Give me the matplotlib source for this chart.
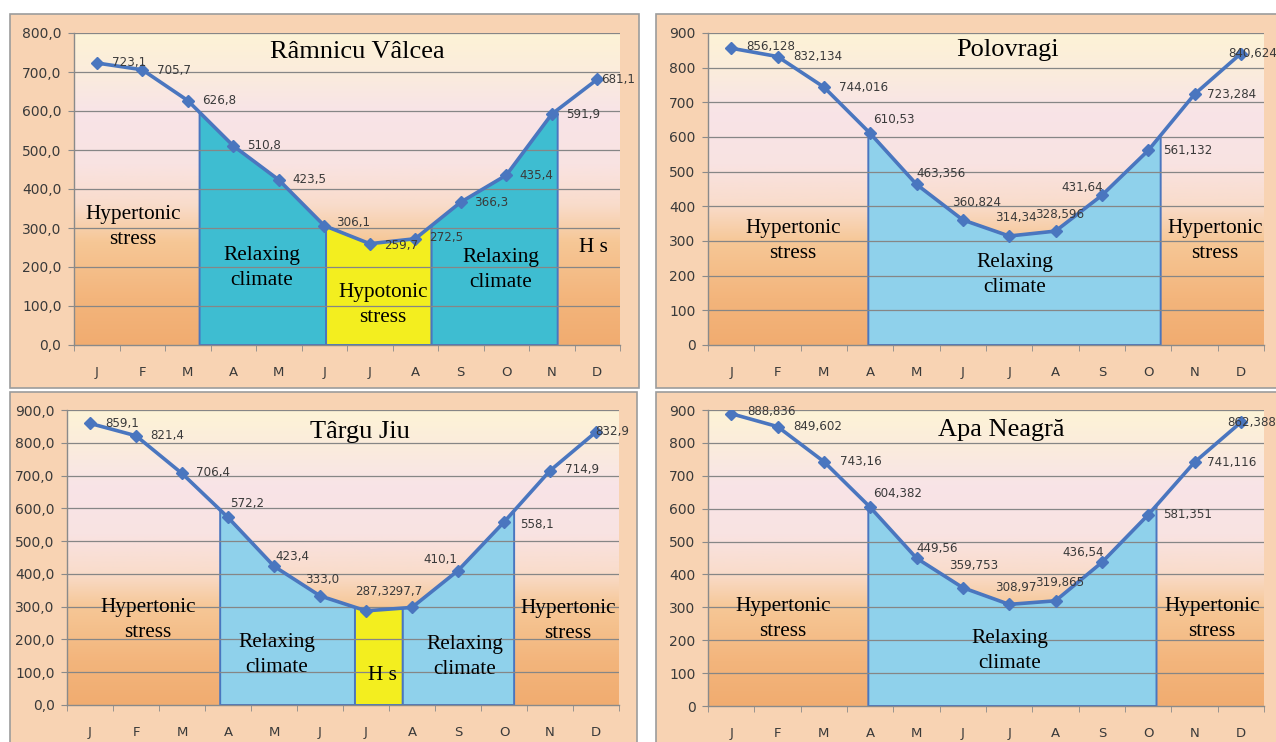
import numpy as np
import matplotlib
matplotlib.use("Agg")
import matplotlib.pyplot as plt
from matplotlib.colors import LinearSegmentedColormap
from matplotlib.patches import Rectangle

# ---- data -------------------------------------------------------------
months = ["J", "F", "M", "A", "M", "J", "J", "A", "S", "O", "N", "D"]

ramnicu_valcea = [723.1, 705.7, 626.8, 510.8, 423.5, 306.1, 259.7, 272.5, 366.3, 435.4, 591.9, 681.1]
polovragi = [856.128, 832.134, 744.016, 610.53, 463.356, 360.824, 314.34, 328.596, 431.64, 561.132, 723.284, 840.624]
targu_jiu = [859.1, 821.4, 706.4, 572.2, 423.4, 333.0, 287.3, 297.7, 410.1, 558.1, 714.9, 832.9]
apa_neagra = [888.836, 849.602, 743.16, 604.382, 449.56, 359.753, 308.97, 319.865, 436.54, 581.351, 741.116, 862.388]

# bioclimatic zones along the month axis: (start, end, kind)
zones_ramnicu = [(2.26, 5.04, "relax_t"), (5.04, 7.36, "hypo"), (7.36, 10.13, "relax_t")]
zones_polovragi = [(2.96, 9.27, "relax")]
zones_targu = [(2.83, 5.76, "relax"), (5.76, 6.80, "hypo"), (6.80, 9.22, "relax")]
zones_apa = [(2.96, 9.18, "relax")]

# ---- style ------------------------------------------------------------
W, H = 1276, 742
LINE = "#4a76bf"
ZONE_COLORS = {"relax_t": "#3ebdd1", "relax": "#8fd1eb", "hypo": "#f3ee1f"}
PANEL = "#f8d3b3"
TXT = "#3a3a3a"
SERIF = "Liberation Serif"

grad_cmap = LinearSegmentedColormap.from_list(
    "bg",
    [(0.00, "#f1ac70"), (0.15, "#f3b57c"), (0.33, "#f6c796"),
     (0.45, "#f9dccb"), (0.58, "#f9e3e2"), (0.75, "#f8e4e7"),
     (0.88, "#fbecdc"), (1.00, "#fdf3d6")])

fig = plt.figure(figsize=(W / 100, H / 100), dpi=100, facecolor="white")


def fx(px):
    return px / W


def fy(py):
    return 1 - py / H


def panel(x0, y0, x1, y1):
    fig.patches.append(Rectangle((fx(x0), fy(y1)), (x1 - x0) / W, (y1 - y0) / H,
                                 transform=fig.transFigure, facecolor=PANEL,
                                 edgecolor="#9c9c9c", linewidth=1.2, zorder=-10))


def chart(box, values, ymax, zones, title, title_xy, notes, offsets, ylab_fmt, val_fmt):
    left, top, right, bottom = box
    ax = fig.add_axes([fx(left), fy(bottom), (right - left) / W, (bottom - top) / H])
    ax.set_facecolor("none")
    ax.set_zorder(1)
    x = np.arange(len(values))
    v = np.asarray(values, dtype=float)

    grad = np.linspace(0, 1, 256).reshape(-1, 1)
    ax.imshow(grad, extent=(-0.5, 11.5, 0, ymax), origin="lower", aspect="auto",
              cmap=grad_cmap, zorder=0, interpolation="bicubic")

    for a, b, kind in zones:
        xs = np.concatenate([[a], x[(x > a) & (x < b)], [b]])
        ys = np.interp(xs, x, v)
        px = np.concatenate([[a], xs, [b]])
        py = np.concatenate([[0], ys, [0]])
        ax.fill(px, py, facecolor=ZONE_COLORS[kind], edgecolor=LINE,
                linewidth=1.4, zorder=1)

    for g in np.arange(100, ymax + 1, 100):
        ax.axhline(g, color="#868686", linewidth=0.9, zorder=2)

    ax.plot(x, v, color=LINE, linewidth=2.6, marker="D", markersize=6,
            markeredgecolor=LINE, zorder=4, solid_joinstyle="round")

    for i, val in enumerate(values):
        dx, dy = offsets[i]
        ax.annotate(val_fmt(val), (x[i], val), xytext=(dx * 0.72, dy * 0.72),
                    textcoords="offset points", ha="left", va="center",
                    fontsize=8.6, color=TXT, zorder=5, family="DejaVu Sans",
                    annotation_clip=False)

    ax.set_xlim(-0.5, 11.5)
    ax.set_ylim(0, ymax)
    ax.set_xticks(x)
    ax.set_xticklabels(months)
    ax.set_xticks(np.arange(-0.5, 12, 1), minor=True)
    ax.tick_params(axis="x", which="major", length=0, pad=15,
                   labelsize=9.5, labelcolor=TXT)
    ax.tick_params(axis="x", which="minor", length=4, color="#8a8a8a", direction="out")
    ax.set_yticks(np.arange(0, ymax + 1, 100))
    ax.set_yticklabels([ylab_fmt(t) for t in np.arange(0, ymax + 1, 100)])
    ax.tick_params(axis="y", length=4, color="#8a8a8a", pad=5,
                   labelsize=10, labelcolor=TXT)
    for s in ("top", "right"):
        ax.spines[s].set_visible(False)
    for s in ("left", "bottom"):
        ax.spines[s].set_color("#8a8a8a")
        ax.spines[s].set_linewidth(1.0)
        ax.spines[s].set_zorder(3)

    fig.text(fx(title_xy[0]), fy(title_xy[1]), title, ha="center", va="center",
             fontsize=19, family=SERIF, color="black", zorder=5)
    for (tx, ty), txt in notes:
        fig.text(fx(tx), fy(ty), txt, ha="center", va="center", fontsize=15.3,
                 family=SERIF, color="black", linespacing=1.37, zorder=5)
    return ax


dec1 = lambda t: f"{t:.1f}".replace(".", ",")
intl = lambda t: f"{t:.0f}"
gen = lambda t: f"{t:g}".replace(".", ",")

panel(10, 14, 639, 388)
panel(656, 14, 1290, 388)
panel(10, 392, 637, 750)
panel(656, 392, 1290, 750)

chart((74, 33, 620, 345), ramnicu_valcea, 800, zones_ramnicu,
      "Râmnicu Vâlcea", (357, 52),
      [((133, 227), "Hypertonic\nstress"), ((262, 268), "Relaxing\nclimate"),
       ((383, 305), "Hypotonic\nstress"), ((501, 270), "Relaxing\nclimate"),
       ((593, 247), "H s")],
      [(15, 0), (15, -1), (14, 0), (14, 0), (14, 0), (12, 3), (14, -2),
       (14, 1), (13, 0), (13, 0), (14, 0), (4, 0)],
      dec1, dec1)

chart((708, 33, 1264, 345), polovragi, 900, zones_polovragi,
      "Polovragi", (1008, 50),
      [((793, 241), "Hypertonic\nstress"), ((1015, 275), "Relaxing\nclimate"),
       ((1215, 241), "Hypertonic\nstress")],
      [(15, 2), (16, 0), (15, 0), (3, 14), (0, 11), (-11, 17), (-14, 19),
       (-20, 17), (-40, 8), (15, 0), (13, 0), (-13, 0)],
      intl, gen)

chart((67, 410, 619, 705), targu_jiu, 900, zones_targu,
      "Târgu Jiu", (360, 432),
      [((148, 620), "Hypertonic\nstress"), ((277, 655), "Relaxing\nclimate"),
       ((382, 675), "H s"), ((465, 657), "Relaxing\nclimate"),
       ((568, 621), "Hypertonic\nstress")],
      [(15, 0), (14, 0), (14, 1), (2, 14), (1, 10), (-15, 16), (-11, 19),
       (-24, 16), (-35, 11), (16, -2), (15, 1), (-1, 0)],
      dec1, dec1)

chart((708, 410, 1264, 706), apa_neagra, 900, zones_apa,
      "Apa Neagră", (1001, 430),
      [((783, 619), "Hypertonic\nstress"), ((1010, 651), "Relaxing\nclimate"),
       ((1212, 619), "Hypertonic\nstress")],
      [(16, 2), (16, 0), (16, 0), (3, 14), (0, 10), (-14, 22), (-14, 17),
       (-20, 18), (-39, 10), (15, 0), (13, 0), (-14, 0)],
      intl, gen)

fig.savefig("out.png", dpi=100, facecolor="white")
